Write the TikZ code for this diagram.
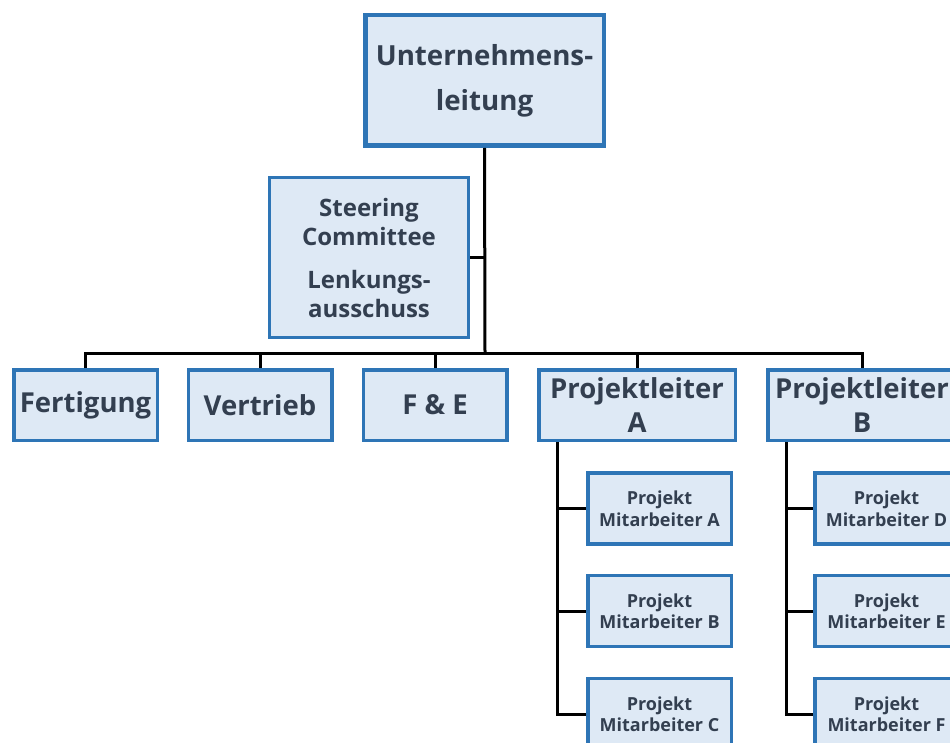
\documentclass[tikz,border=0pt]{standalone}
\usepackage{fontspec}
\setmainfont{Open Sans}
\definecolor{boxfill}{HTML}{DEE9F5}
\definecolor{boxline}{HTML}{2E75B6}
\definecolor{boxtext}{HTML}{333F50}
\tikzset{
  unit/.style={draw=boxline, fill=boxfill, text=boxtext, font=\bfseries,
    align=center, inner sep=0pt, line width=3.5pt},
  link/.style={draw=black, line width=3pt}
}
\begin{document}
\begin{tikzpicture}[x=1pt,y=1pt]
\useasboundingbox (0,0) rectangle (950,-743);
\fill[white] (0,0) rectangle (950,-743);

% top management and steering committee
\node[unit, line width=4.5pt, minimum width=238.5pt, minimum height=130.5pt,
  font=\bfseries\fontsize{27.7}{45}\selectfont] (top) at (484.5,-80.5)
  {Unternehmens-\\leitung};
\node[unit, line width=3pt, minimum width=199pt, minimum height=160pt,
  font=\bfseries\fontsize{24}{29}\selectfont] (steer) at (369,-257.5)
  {Steering\\Committee\\[14pt]Lenkungs-\\ausschuss};

% departments
\tikzset{dept/.style={unit, minimum width=143.5pt, minimum height=70.5pt,
  font=\bfseries\fontsize{27.5}{34}\selectfont}}
\node[dept] (fert) at (85.5,-405) {Fertigung};
\node[dept] (vert) at (260,-405) {Vertrieb};
\node[dept] (fue) at (435,-405) {F \& E};
\node[dept, minimum width=196.5pt] (pla) at (637,-405) {Projektleiter\\A};
\node[dept, minimum width=188.5pt] (plb) at (862,-405) {Projektleiter\\B};

% project staff
\tikzset{staff/.style={unit, minimum width=143.5pt, minimum height=71pt,
  font=\bfseries\fontsize{18}{21.5}\selectfont}}
\node[staff] (ma) at (659.5,-508.5) {Projekt\\Mitarbeiter A};
\node[staff] (mb) at (659.5,-611) {Projekt\\Mitarbeiter B};
\node[staff] (mc) at (659.5,-714) {Projekt\\Mitarbeiter C};
\node[staff] (md) at (886.5,-508.5) {Projekt\\Mitarbeiter D};
\node[staff] (me) at (886.5,-611) {Projekt\\Mitarbeiter E};
\node[staff] (mf) at (886.5,-714) {Projekt\\Mitarbeiter F};

% connectors
\coordinate (bus) at (485,-353);
\draw[link] (top.south) -- (bus);
\draw[link] (steer.east) -- (steer.east -| bus);
\draw[link] (fert.north) |- (bus) -| (plb.north);
\draw[link] (vert.north) -- (vert.north |- bus);
\draw[link] (fue.north) -- (fue.north |- bus);
\draw[link] (pla.north) -- (pla.north |- bus);

\coordinate (ta) at ([xshift=20pt]pla.south west);
\coordinate (tb) at ([xshift=20pt]plb.south west);
\draw[link] (ta) |- (mc.west);
\draw[link] (ta |- ma.west) -- (ma.west);
\draw[link] (ta |- mb.west) -- (mb.west);
\draw[link] (tb) |- (mf.west);
\draw[link] (tb |- md.west) -- (md.west);
\draw[link] (tb |- me.west) -- (me.west);
\end{tikzpicture}
\end{document}
